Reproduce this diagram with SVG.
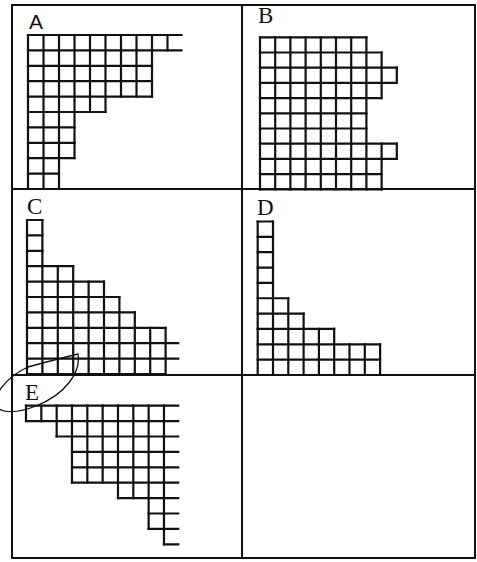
<svg xmlns="http://www.w3.org/2000/svg" width="477" height="562" viewBox="0 0 477 562">
<style>
.g path{fill:none;stroke:#111;stroke-width:2.2;stroke-linecap:square;vector-effect:non-scaling-stroke}
.frame{fill:none;stroke:#111;stroke-width:2}
.lbl{font-family:"Liberation Serif","Times New Roman",serif;font-size:23px;fill:#111}
.lbls{font-family:"Liberation Sans",Arial,sans-serif;font-size:21px;fill:#111}
</style>
<rect width="477" height="562" fill="#fff"/>
<g id="frame">
<rect class="frame" x="12" y="5" width="463" height="553"/>
<path class="frame" d="M242 5V558M12 189H475M12 375H475"/>
</g>
<g id="panelA">
<text class="lbls" x="29" y="29">A</text>
<g class="g" transform="translate(28,35) scale(15.5,15.4)">
<path d="M0 0H9.9M0 1H9.9M0 2H8M0 3H8M0 4H8M0 5H5M0 6H3M0 7H3M0 8H3M0 9H2M0 10H2"/>
<path d="M0 0V10M1 0V10M2 0V10M3 0V8M4 0V5M5 0V5M6 0V4M7 0V4M8 0V4M9 0V1"/>
</g>
</g>
<g id="panelB">
<text class="lbl" x="258" y="23">B</text>
<g class="g" transform="translate(260,37.3) scale(15.2,15.2)">
<path d="M0 0H7M0 1H8M0 2H9M0 3H9M0 4H8M0 5H7M0 6H7M0 7H9M0 8H9M0 9H8M0 10H8"/>
<path d="M0 0V10M1 0V10M2 0V10M3 0V10M4 0V10M5 0V10M6 0V10M7 0V10M8 1V4M8 7V10M9 2V3M9 7V8"/>
</g>
</g>
<g id="panelC">
<text class="lbl" x="27" y="214">C</text>
<g class="g" transform="translate(27,220) scale(15.4,15.4)">
<path d="M0 0H1M0 1H1M0 2H1M0 3H3M0 4H5M0 5H6M0 6H7M0 7H9M0 8H9.82M0 9H9.82M0 10H9"/>
<path d="M0 0V10M1 0V10M2 3V10M3 3V10M4 4V10M5 4V10M6 5V10M7 6V10M8 7V10M9 7V10"/>
</g>
</g>
<g id="panelD">
<text class="lbl" x="257" y="215">D</text>
<g class="g" transform="translate(257.7,221.5) scale(15.3,15.35)">
<path d="M0 0H1M0 1H1M0 2H1M0 3H1M0 4H1M0 5H2M0 6H3M0 7H5M0 8H8M0 9H8M0 10H8"/>
<path d="M0 0V10M1 0V10M2 5V10M3 6V10M4 7V10M5 7V10M6 8V10M7 8V10M8 8V10"/>
</g>
</g>
<g id="panelE">
<text class="lbl" x="25" y="400">E</text>
<g class="g" transform="translate(26,405.7) scale(15.33,15.4)">
<path d="M0 0H9.93M0 1H9.93M2 2H9.93M3 3H9.93M3 4H9.93M3 5H9.93M6 6H9.93M8 7H9.93M8 8H9.93M9 9H9.93"/>
<path d="M0 0V1M1 0V1M2 0V2M3 0V5M4 0V5M5 0V5M6 0V6M7 0V6M8 0V8M9 0V9"/>
</g>
<path d="M78 354C81 372 66 394 36 406C18 413 2 414 -4 406C-8 398 4 378 28 367C46 362 66 357 78 354Z" fill="none" stroke="#111" stroke-width="1.3"/>
</g>
<g id="connectors"/>
</svg>
